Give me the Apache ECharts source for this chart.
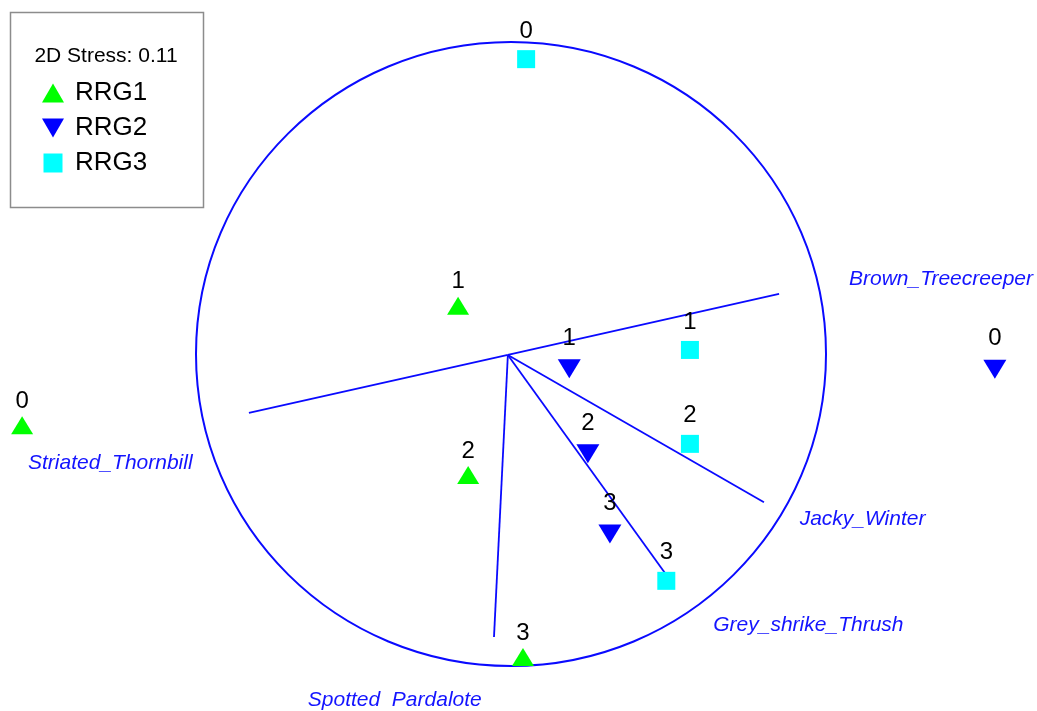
<!DOCTYPE html>
<html>
<head>
<meta charset="utf-8">
<title>nMDS ordination – RRG groups</title>
<script src="https://cdn.jsdelivr.net/npm/echarts@6/dist/echarts.min.js"></script>
<style>
  html, body { margin: 0; padding: 0; background: #fff; }
  #chart { width: 1037px; height: 711px; }
</style>
</head>
<body>
<div id="chart"></div>
<script>
// nMDS ordination coordinates (axis units, correlation circle radius = 1)
const groupNames = ['RRG1', 'RRG2', 'RRG3'];
const sampleLabels = ['0', '1', '2', '3'];
const rrg1 = [[-1.552, -0.228], [-0.168, 0.155], [-0.136, -0.388], [0.038, -0.971]];
const rrg2 = [[1.536, -0.049], [0.185, -0.047], [0.244, -0.320], [0.314, -0.577]];
const rrg3 = [[0.048, 0.945], [0.568, 0.013], [0.568, -0.288], [0.493, -0.727]];

// Species vectors (Pearson correlation overlay), drawn from the origin
const vectorOrigin = [-0.01, -0.003];
const speciesNames = ['Brown_Treecreeper', 'Striated_Thornbill', 'Jacky_Winter', 'Grey_shrike_Thrush', 'Spotted  Pardalote'];
const speciesVectors = [[0.851, 0.193], [-0.832, -0.189], [0.803, -0.475], [0.495, -0.711], [-0.054, -0.907]];
const speciesLabelAt = [[1.365, 0.241], [-1.272, -0.349], [1.116, -0.529], [0.944, -0.869], [-0.369, -1.109]];

const stressText = '2D Stress: 0.11';

const FONT = '"Liberation Sans", Arial, sans-serif';
const BLUE = '#0a0aff';

const chart = echarts.init(document.getElementById('chart'), null, { renderer: 'canvas' });

function withLabels(points) {
  return points.map((p, i) => ({ value: p, name: sampleLabels[i] }));
}

const numberLabel = (dist) => ({
  show: true,
  position: 'top',
  distance: dist,
  formatter: (p) => p.name,
  color: '#000',
  fontSize: 24,
  fontFamily: FONT
});

const option = {
  animation: false,
  backgroundColor: '#fff',
  grid: { left: 0, right: 0, top: 0, bottom: 0 },
  xAxis: { type: 'value', min: -1.6222, max: 1.6698, show: false },
  yAxis: { type: 'value', min: -1.1442, max: 1.1346, show: false },
  legend: {
    orient: 'vertical',
    left: 42,
    top: 80,
    padding: 0,
    itemWidth: 22,
    itemHeight: 19,
    itemGap: 9,
    selectedMode: false,
    textStyle: { fontSize: 26, color: '#000', fontFamily: FONT, padding: [0, 0, 0, 6] },
    data: [
      { name: groupNames[0] },
      { name: groupNames[1] },
      { name: groupNames[2], icon: 'path://M0,0L18,0L18,18L0,18Z' }
    ]
  },
  graphic: [
    {
      type: 'rect',
      shape: { x: 10.5, y: 12.5, width: 193, height: 195 },
      style: { fill: 'none', stroke: '#8c8c8c', lineWidth: 1.5 },
      z: 1
    },
    {
      type: 'text',
      x: 106,
      y: 56,
      style: {
        text: stressText, fill: '#000', fontSize: 21, fontFamily: FONT,
        align: 'center', verticalAlign: 'middle'
      },
      z: 2
    }
  ],
  series: [
    {
      type: 'lines',
      coordinateSystem: 'cartesian2d',
      silent: true,
      z: 1,
      lineStyle: { color: BLUE, width: 1.8, opacity: 1 },
      data: speciesVectors.map((v) => ({ coords: [vectorOrigin, v] }))
    },
    {
      type: 'scatter',
      name: 'species',
      silent: true,
      symbolSize: 0,
      z: 2,
      itemStyle: { opacity: 1 },
      label: {
        show: true,
        position: 'inside',
        formatter: (p) => p.name,
        color: '#1414ff',
        fontSize: 21,
        fontStyle: 'italic',
        fontFamily: FONT
      },
      data: speciesLabelAt.map((p, i) => ({ value: p, name: speciesNames[i] }))
    },
    {
      type: 'scatter',
      name: groupNames[0],
      symbol: 'triangle',
      symbolSize: [22, 18],
      itemStyle: { color: '#00ff00', opacity: 1 },
      label: numberLabel(3),
      z: 3,
      data: withLabels(rrg1)
    },
    {
      type: 'scatter',
      name: groupNames[1],
      symbol: 'path://M0,0L22,0L11,19Z',
      symbolSize: [23, 19],
      itemStyle: { color: '#0000ff', opacity: 1 },
      label: numberLabel(9),
      z: 3,
      data: withLabels(rrg2)
    },
    {
      type: 'scatter',
      name: groupNames[2],
      symbol: 'rect',
      symbolSize: 18,
      itemStyle: { color: '#00ffff', opacity: 1 },
      label: numberLabel(7),
      z: 3,
      data: withLabels(rrg3)
    }
  ]
};

chart.setOption(option);

// Unit correlation circle, placed through the grid's own scales
const c0 = chart.convertToPixel({ gridIndex: 0 }, [0, 0]);
const cx1 = chart.convertToPixel({ gridIndex: 0 }, [1, 0]);
const cy1 = chart.convertToPixel({ gridIndex: 0 }, [0, 1]);
chart.setOption({
  graphic: [
    {}, {},
    {
      type: 'ellipse',
      shape: { cx: c0[0], cy: c0[1], rx: Math.abs(cx1[0] - c0[0]), ry: Math.abs(cy1[1] - c0[1]) },
      style: { fill: 'none', stroke: BLUE, lineWidth: 2 },
      z: 1,
      silent: true
    }
  ]
});
</script>
</body>
</html>
